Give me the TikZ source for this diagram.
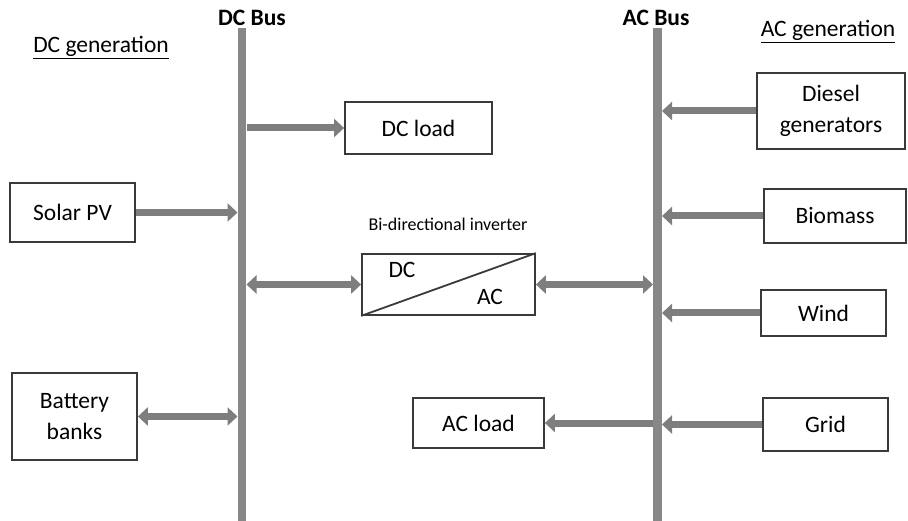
\documentclass[tikz,border=0pt]{standalone}
\usepackage{fontspec}
\setmainfont{Carlito}
\usetikzlibrary{arrows.meta}
\definecolor{busgray}{HTML}{878787}
\definecolor{arrgray}{HTML}{7E7E7E}
\definecolor{boxline}{HTML}{3A3A3A}
\begin{document}
\begin{tikzpicture}[x=1pt,y=-1pt,
  font=\fontsize{23.5}{31}\selectfont,
  box/.style={draw=boxline,line width=1.8pt,rectangle,inner sep=0pt,align=center},
  bus/.style={busgray,line width=8.5pt},
  arr/.style={arrgray,line width=7pt,-{Triangle[width=18pt,length=10pt]}},
  darr/.style={arrgray,line width=7pt,{Triangle[width=18pt,length=10pt]}-{Triangle[width=18pt,length=10pt]}},
  lbl/.style={inner sep=0pt,anchor=base}]
\useasboundingbox (0,0) rectangle (908,521);
% buses
\coordinate (dctop) at (242,28);
\coordinate (dcbot) at (242,521);
\coordinate (actop) at (657.5,28);
\coordinate (acbot) at (657.5,521);
\draw[bus] (dctop) -- (dcbot);
\draw[bus] (actop) -- (acbot);
\coordinate (dcL) at (237.5,0);
\coordinate (dcR) at (246.5,0);
\coordinate (acL) at (653,0);
\coordinate (acR) at (662,0);
% titles
\node[lbl,font=\fontsize{23.5}{28}\selectfont\bfseries] (dcbustxt) at (252,26) {DC Bus};
\node[lbl,font=\fontsize{23.5}{28}\selectfont\bfseries] (acbustxt) at (656,26) {AC Bus};
\node[lbl] (dcgen) at (101,53) {\underline{DC generation}};
\node[lbl] (acgen) at (828,37) {\underline{AC generation}};
% boxes
\node[box,minimum width=125pt,minimum height=59pt] (solar) at (72.5,212.5) {Solar PV};
\node[box,minimum width=125pt,minimum height=87pt] (battery) at (74.5,416.5) {Battery\\banks};
\node[box,minimum width=147pt,minimum height=52pt] (dcload) at (418.5,128) {DC load};
\node[box,minimum width=173pt,minimum height=61pt] (inv) at (448.5,284.5) {};
\node[box,minimum width=131pt,minimum height=50pt] (acload) at (478.5,423) {AC load};
\node[box,minimum width=148pt,minimum height=76pt] (diesel) at (831,111) {Diesel\\generators};
\node[box,minimum width=142pt,minimum height=54pt] (biomass) at (835,216) {Biomass};
\node[box,minimum width=125pt,minimum height=46pt] (wind) at (823.5,313) {Wind};
\node[box,minimum width=125pt,minimum height=53pt] (grid) at (825.5,424.5) {Grid};
% inverter interior
\draw[boxline,line width=1.8pt] (inv.south west) -- (inv.north east);
\node[inner sep=0pt] (invdc) at (402,270) {DC};
\node[inner sep=0pt] (invac) at (490,297) {AC};
\node[lbl,font=\fontsize{18}{22}\selectfont] (invlbl) at (448,231) {Bi-directional inverter};
% connectors
\draw[arr] (solar.east) -- (solar.east -| dcL);
\draw[darr] (battery.east) -- (battery.east -| dcL);
\draw[arr] (dcload.west -| dcR) -- (dcload.west);
\draw[darr] (inv.west -| dcR) -- (inv.west);
\draw[darr] (inv.east) -- (inv.east -| acL);
\draw[arr] (acload.east -| acL) -- (acload.east);
\draw[arr] (diesel.west) -- (diesel.west -| acR);
\draw[arr] (biomass.west) -- (biomass.west -| acR);
\draw[arr] (wind.west) -- (wind.west -| acR);
\draw[arr] (grid.west) -- (grid.west -| acR);
\end{tikzpicture}
\end{document}
